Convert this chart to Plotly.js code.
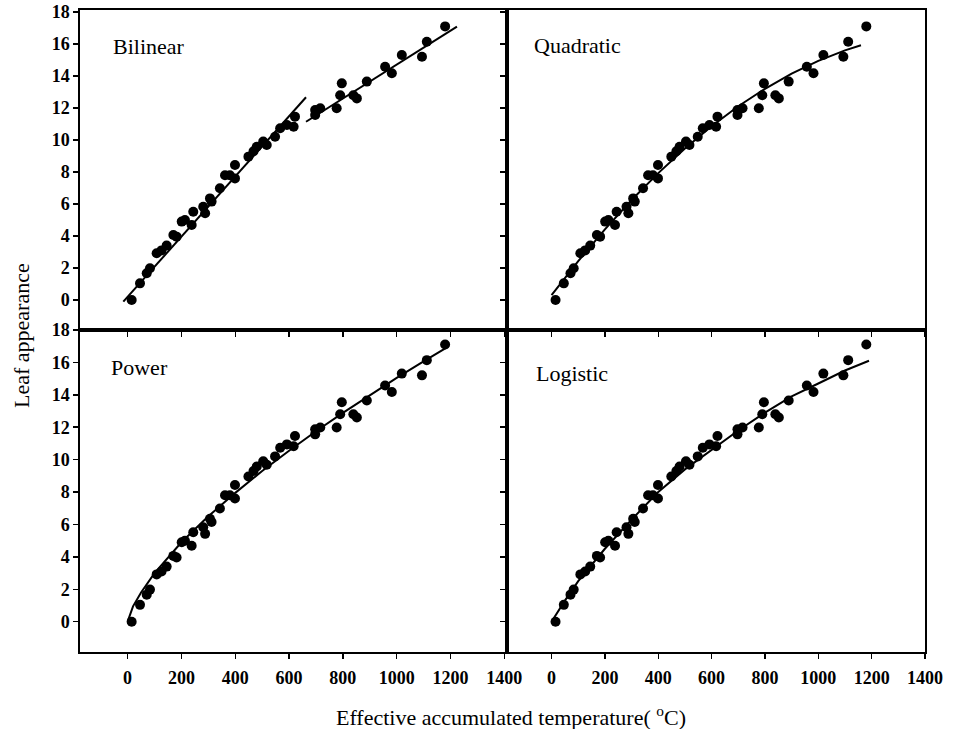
<!DOCTYPE html>
<html><head><meta charset="utf-8">
<script src="https://cdn.plot.ly/plotly-3.0.1.min.js"></script>
<style>body{margin:0;background:#fff}#chart{width:953px;height:729px}</style>
</head><body><div id="chart"></div>
<script>
// Observed data (same observations in all four panels)
const obsTemp = [15,46,71,83,108,126,145,170,182,201,213,238,244,281,288,306,312,343,362,380,399,399,449,468,480,504,517,548,567,592,617,622,697,716,697,777,790,796,839,852,889,957,982,1019,1094,1112,1180];
const obsLeaves = [0,1.04,1.67,1.98,2.92,3.1,3.4,4.06,3.96,4.9,5.0,4.69,5.52,5.83,5.42,6.35,6.15,6.98,7.8,7.8,8.44,7.6,8.96,9.3,9.58,9.9,9.69,10.2,10.73,10.94,10.83,11.46,11.88,11.98,11.56,11.98,12.8,13.54,12.8,12.6,13.65,14.58,14.17,15.31,15.2,16.14,17.1];

// Fitted lines
const bilinear1X = [-16, 663];
const bilinear1Y = [-0.1, 12.67];
const bilinear2X = [663, 1224];
const bilinear2Y = [11.14, 17.08];

const quadX = [0,100,200,300,400,500,600,700,800,900,1000,1100,1160];
const quadY = [0.3,2.43,4.41,6.25,7.93,9.47,10.86,12.11,13.2,14.15,14.95,15.6,15.92];

const powerX = [0,20,50,100,200,300,400,500,600,700,800,900,1000,1100,1190];
const powerY = [0,0.95,1.8,3.0,4.9,6.5,7.95,9.3,10.55,11.75,12.89,13.99,15.04,16.06,16.96];

const logisticX = [0,50,100,200,300,400,500,600,700,800,900,1000,1100,1190];
const logisticY = [0,1.3,2.5,4.5,6.3,8.0,9.4,10.6,11.8,12.9,13.9,14.7,15.5,16.1];

const panelNames = ['Bilinear','Quadratic','Power','Logistic'];
const xTicks = [0,200,400,600,800,1000,1200,1400];
const yTicks = [0,2,4,6,8,10,12,14,16,18];

const W = 953, H = 729;
const px = v => v / W;
const py = v => 1 - v / H;

const serif = 'Liberation Serif, Times New Roman, serif';
const marker = {color:'#000', size: 10};
const lineStyle = {color:'#000', width: 2};

function pts(xa, ya) {
  return {x: obsTemp, y: obsLeaves, mode:'markers', type:'scatter', marker: marker, xaxis: xa, yaxis: ya, showlegend:false, hoverinfo:'skip'};
}
function fit(x, y, xa, ya) {
  return {x: x, y: y, mode:'lines', type:'scatter', line: lineStyle, xaxis: xa, yaxis: ya, showlegend:false, hoverinfo:'skip'};
}

const data = [
  pts('x','y'), fit(bilinear1X, bilinear1Y, 'x','y'), fit(bilinear2X, bilinear2Y, 'x','y'),
  pts('x2','y2'), fit(quadX, quadY, 'x2','y2'),
  pts('x3','y3'), fit(powerX, powerY, 'x3','y3'),
  pts('x4','y4'), fit(logisticX, logisticY, 'x4','y4')
];

const tickFont = {family: serif, size: 18, color:'#000', weight: 'bold'};
function xa(domain, range, anchor, labels) {
  return {domain: domain, range: range, anchor: anchor, tickvals: xTicks, ticktext: xTicks.map(String),
    showticklabels: labels, ticks:'outside', ticklen: 5, tickwidth: 1.5, tickcolor:'#000', ticklabelstandoff: 4,
    showline: true, linecolor:'#000', linewidth: 1.6, mirror: true, showgrid:false, zeroline:false,
    tickfont: tickFont, fixedrange:true};
}
function ya(domain, range, anchor, labels) {
  return {domain: domain, range: range, anchor: anchor, tickvals: yTicks, ticktext: yTicks.map(String),
    showticklabels: labels, ticks:'outside', ticklen: 5, tickwidth: 1.5, tickcolor:'#000',
    showline: true, linecolor:'#000', linewidth: 1.6, mirror: true, showgrid:false, zeroline:false,
    tickfont: tickFont, fixedrange:true};
}

const leftDom = [px(80), px(507)];
const rightDom = [px(507), px(925)];
const topDom = [py(330), py(10)];
const botDom = [py(652), py(330)];

const labelFont = {family: serif, size: 22, color:'#000'};
function lab(text, x, y) {
  return {text: text, xref:'paper', yref:'paper', x: px(x), y: py(y), xanchor:'left', yanchor:'middle', showarrow:false, font: labelFont};
}

const layout = {
  width: W, height: H,
  margin: {l:0, r:0, t:0, b:0},
  paper_bgcolor:'#fff', plot_bgcolor:'#fff',
  showlegend: false,
  xaxis: xa(leftDom, [-177, 1410], 'y', false),
  yaxis: ya(topDom, [-1.875, 18.125], 'x', true),
  xaxis2: xa(rightDom, [-167, 1400], 'y2', false),
  yaxis2: ya(topDom, [-1.875, 18.125], 'x2', false),
  xaxis3: xa(leftDom, [-177, 1410], 'y3', true),
  yaxis3: ya(botDom, [-1.87, 18.0], 'x3', true),
  xaxis4: xa(rightDom, [-167, 1400], 'y4', true),
  yaxis4: ya(botDom, [-1.87, 18.0], 'x4', false),
  annotations: [
    lab(panelNames[0], 111, 46),
    lab(panelNames[1], 532, 45),
    lab(panelNames[2], 109, 368),
    lab(panelNames[3], 534, 373),
    {text:'Leaf appearance', xref:'paper', yref:'paper', x: px(21), y: py(336), textangle: -90,
     xanchor:'center', yanchor:'middle', showarrow:false, font:{family: serif, size: 22, color:'#000'}},
    {text:'Effective accumulated temperature( <sup>o</sup>C)', xref:'paper', yref:'paper', x: px(511), y: py(716),
     xanchor:'center', yanchor:'middle', showarrow:false, font:{family: serif, size: 22, color:'#000'}}
  ]
};

Plotly.newPlot('chart', data, layout, {staticPlot: true, displayModeBar: false});
</script>
</body></html>
